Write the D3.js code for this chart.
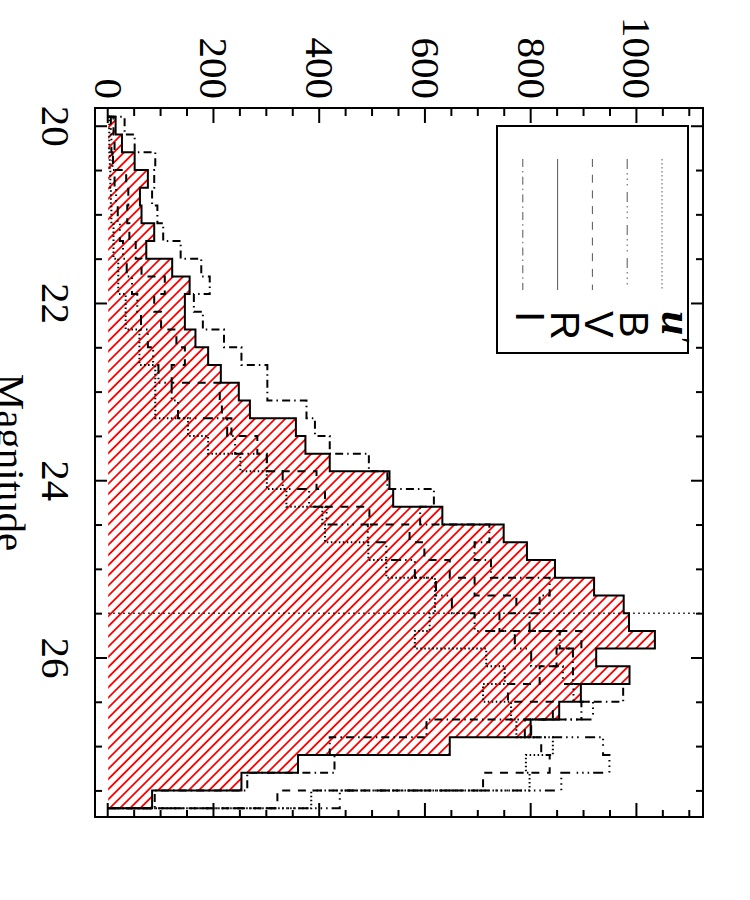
<!DOCTYPE html>
<html>
<head>
<meta charset="utf-8">
<script src="https://cdn.jsdelivr.net/npm/d3@7"></script>
<style>
  body { margin: 0; background: #fff; }
  svg { display: block; }
</style>
</head>
<body>
<svg id="plot" width="750" height="900"></svg>
<script>
// bin centres (0.2 mag bins)
const mags = [20.0, 20.2, 20.4, 20.6, 20.8, 21.0, 21.2, 21.4, 21.6, 21.8,
              22.0, 22.2, 22.4, 22.6, 22.8, 23.0, 23.2, 23.4, 23.6, 23.8,
              24.0, 24.2, 24.4, 24.6, 24.8, 25.0, 25.2, 25.4, 25.6, 25.8,
              26.0, 26.2, 26.4, 26.6, 26.8, 27.0, 27.2, 27.4, 27.6];

const uCounts = [2, 2, 3, 4, 5, 6, 10, 10, 19, 19, 33, 33, 59, 59, 89, 89, 89, 151, 189, 250,
                 300, 337, 405, 410, 492, 526, 618, 618, 608, 580, 715, 750, 709, 762, 772, 841, 790, 797, 384];
const bCounts = [5, 6, 8, 12, 15, 18, 22, 28, 35, 45, 55, 62, 75, 85, 95, 120, 132, 225, 240, 300,
                 330, 380, 413, 491, 526, 580, 620, 650, 693, 769, 800, 860, 880, 917, 800, 936, 948, 857, 438];
const vCounts = [10, 12, 9, 34, 38, 36, 40, 52, 63, 107, 87, 100, 129, 145, 120, 211, 215, 233, 282, 300,
                 394, 410, 494, 570, 598, 646, 693, 772, 740, 895, 848, 816, 756, 841, 788, 819, 835, 709, 320];
const rCounts = [14, 26, 50, 75, 60, 63, 87, 72, 121, 154, 145, 145, 165, 189, 213, 247, 268, 355, 373, 419,
                 532, 539, 632, 748, 792, 845, 919, 975, 985, 1034, 923, 986, 894, 853, 799, 646, 359, 252, 83];
const iCounts = [31, 50, 89, 87, 83, 93, 104, 137, 176, 192, 162, 179, 219, 252, 301, 301, 375, 391, 419, 493,
                 528, 616, 590, 721, 693, 724, 835, 816, 797, 854, 879, 879, 974, 895, 602, 419, 428, 263, 88];

const magTicks = [20, 22, 24, 26];
const countTicks = [0, 200, 400, 600, 800, 1000];
const cutMag = 25.5;

const legendNames = ["u", "B", "V", "R", "I"];
const legendDash = ["1.5,2.5", "10,4,1.5,4,1.5,4,1.5,6.5", "8,7.7", null, "8,4,1.5,4.2"];

const W = 709, H = 608;   // plot in its own (unrotated) frame
const half = 0.1;

const svg = d3.select("#plot");

svg.append("defs").append("pattern")
  .attr("id", "hatch")
  .attr("patternUnits", "userSpaceOnUse")
  .attr("width", 7.2)
  .attr("height", 7.2)
  .attr("patternTransform", "rotate(-45)")
  .append("line")
  .attr("x1", 3.6).attr("y1", -1)
  .attr("x2", 3.6).attr("y2", 8.2)
  .attr("stroke", "#ff0000")
  .attr("stroke-width", 1.8);

// whole chart is drawn turned a quarter clockwise
const g = svg.append("g").attr("transform", "translate(703,108) rotate(90)");

const x = d3.scaleLinear().domain([19.8, 27.8]).range([0, W]);
const y = d3.scaleLinear().domain([-25, 1125]).range([H, 0]);

function stepPoints(vals) {
  let pts = [[mags[0] - half, 0]];
  vals.forEach((v, i) => pts.push([mags[i] - half, v]));
  pts.push([mags[mags.length - 1] + half, 0]);
  return pts;
}

const line = d3.line()
  .x(d => x(d[0]))
  .y(d => y(d[1]))
  .curve(d3.curveStepAfter);

// hatched R histogram
g.append("path")
  .attr("d", line(stepPoints(rCounts)) + "Z")
  .attr("fill", "url(#hatch)")
  .attr("stroke", "none");

const series = [uCounts, bCounts, vCounts, rCounts, iCounts];
series.forEach((vals, k) => {
  g.append("path")
    .attr("d", line(stepPoints(vals)))
    .attr("fill", "none")
    .attr("stroke", "#000")
    .attr("stroke-width", 2)
    .attr("stroke-dasharray", legendDash[k]);
});

// completeness limit
g.append("line")
  .attr("x1", x(cutMag)).attr("x2", x(cutMag))
  .attr("y1", y(0)).attr("y2", y(1125))
  .attr("stroke", "#000")
  .attr("stroke-width", 1.5)
  .attr("stroke-dasharray", "1.5,3.5");

// axes, IDL style ticks inside on all sides
const minorMag = d3.range(20, 28, 0.5).filter(d => d % 2 != 0);
const minorCount = d3.range(0, 1125, 50).filter(d => d % 200 != 0);

function styleAxis(sel) {
  sel.select(".domain").remove();
  sel.selectAll(".tick line").attr("stroke-width", 2);
  sel.selectAll("text")
    .attr("font-family", "'Liberation Serif', 'Times New Roman', serif")
    .attr("font-size", 41)
    .attr("fill", "#000");
}

g.append("g").attr("transform", `translate(0,${H})`)
  .call(d3.axisBottom(x).tickValues(magTicks).tickSize(-12).tickPadding(24).tickFormat(d3.format("d")))
  .call(styleAxis);
g.append("g").attr("transform", `translate(0,${H})`)
  .call(d3.axisBottom(x).tickValues(minorMag).tickSize(-7).tickFormat(""))
  .call(styleAxis);
g.append("g")
  .call(d3.axisTop(x).tickValues(magTicks).tickSize(-12).tickFormat(""))
  .call(styleAxis);
g.append("g")
  .call(d3.axisTop(x).tickValues(minorMag).tickSize(-7).tickFormat(""))
  .call(styleAxis);

g.append("g")
  .call(d3.axisLeft(y).tickValues(countTicks).tickSize(-15).tickPadding(9).tickFormat(d3.format("d")))
  .call(styleAxis);
g.append("g")
  .call(d3.axisLeft(y).tickValues(minorCount).tickSize(-8).tickFormat(""))
  .call(styleAxis);
g.append("g").attr("transform", `translate(${W},0)`)
  .call(d3.axisRight(y).tickValues(countTicks).tickSize(-14).tickFormat(""))
  .call(styleAxis);
g.append("g").attr("transform", `translate(${W},0)`)
  .call(d3.axisRight(y).tickValues(minorCount).tickSize(-7).tickFormat(""))
  .call(styleAxis);

g.append("rect")
  .attr("x", 0).attr("y", 0)
  .attr("width", W).attr("height", H)
  .attr("fill", "none")
  .attr("stroke", "#000")
  .attr("stroke-width", 2);

g.append("text")
  .attr("x", W / 2)
  .attr("y", 706)
  .attr("text-anchor", "middle")
  .attr("font-family", "'Liberation Serif', 'Times New Roman', serif")
  .attr("font-size", 41)
  .text("Magnitude");

// legend
const leg = g.append("g");
leg.append("rect")
  .attr("x", 18).attr("y", 15)
  .attr("width", 227).attr("height", 191)
  .attr("fill", "none")
  .attr("stroke", "#000")
  .attr("stroke-width", 2);

legendNames.forEach((name, k) => {
  let ly = 41 + k * 34.8;
  leg.append("line")
    .attr("x1", 51).attr("x2", 182)
    .attr("y1", ly).attr("y2", ly)
    .attr("stroke", "#555")
    .attr("stroke-width", 1)
    .attr("stroke-dasharray", legendDash[k]);
  if (k == 0) {
    let t = leg.append("text")
      .attr("x", 203).attr("y", ly)
      .attr("font-family", "'Liberation Serif', 'Times New Roman', serif")
      .attr("font-size", 44)
      .attr("font-style", "italic")
      .attr("font-weight", "bold")
      .text(name);
    t.append("tspan").attr("font-weight", "normal").attr("font-size", 30).attr("dy", -8).text("\u2032");
  } else {
    leg.append("text")
      .attr("x", 203).attr("y", ly + 7)
      .attr("font-family", "'Liberation Sans', Arial, sans-serif")
      .attr("font-size", 40)
      .text(name);
  }
});
</script>
</body>
</html>
